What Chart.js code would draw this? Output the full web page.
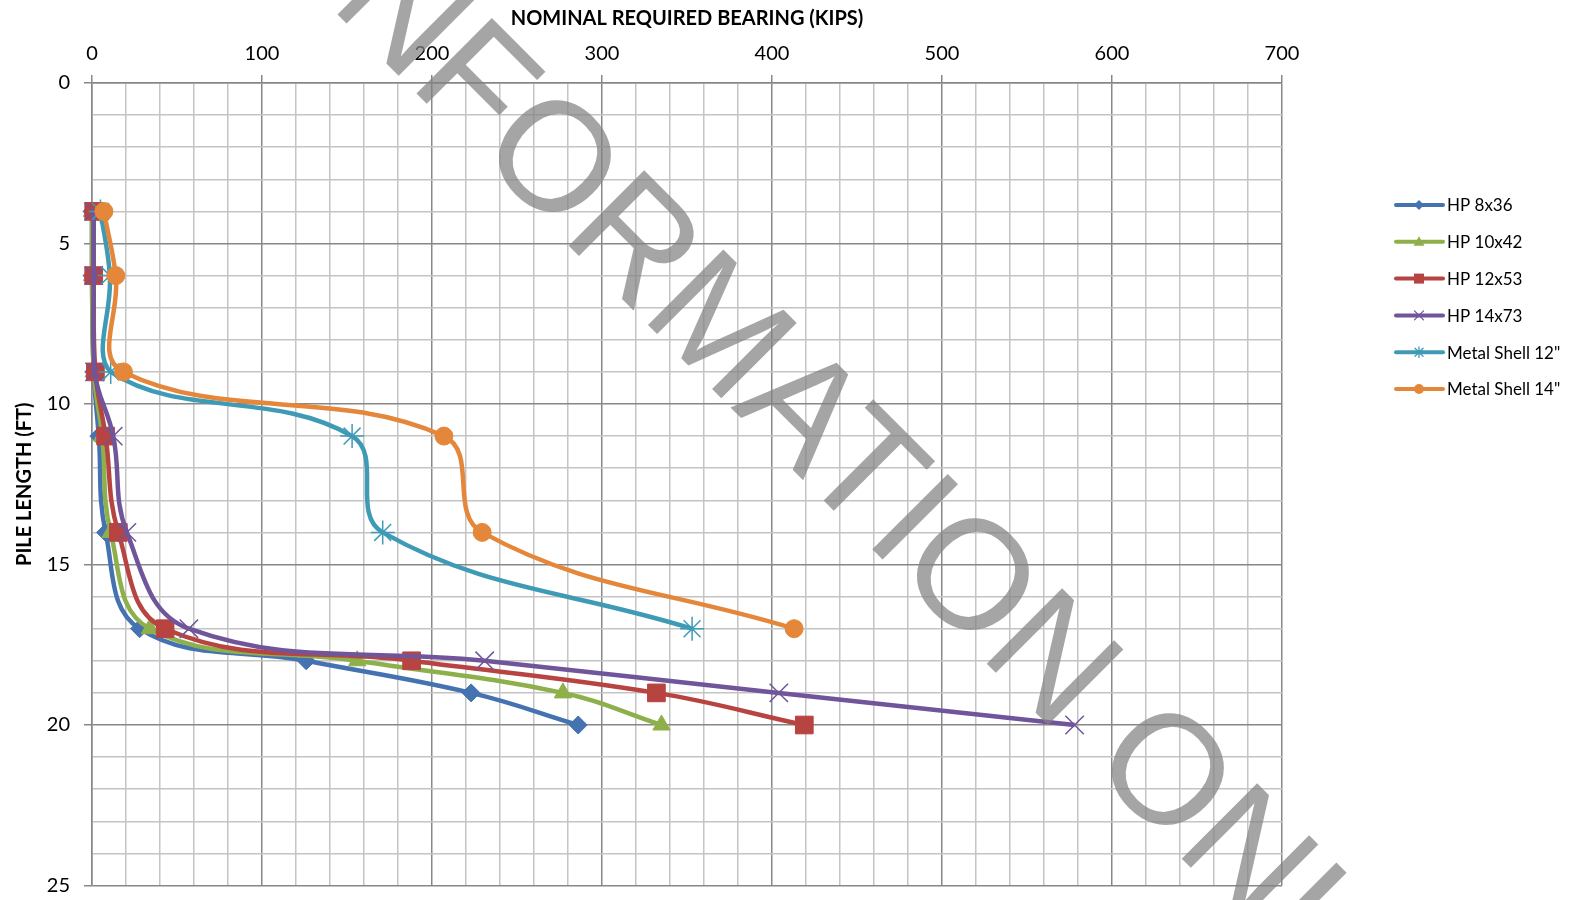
<!DOCTYPE html>
<html>
<head>
<meta charset="utf-8">
<script src="https://cdn.jsdelivr.net/npm/chart.js@4.4.0/dist/chart.umd.min.js"></script>
<style>
  html, body { margin: 0; padding: 0; background: #fff; }
</style>
</head>
<body>
<canvas id="pileChart" width="1577" height="900"></canvas>
<script>
// pile length (ft) for each reading
var depths = [4, 6, 9, 11, 14, 17, 18, 19, 20];
var shellDepths = [4, 6, 9, 11, 14, 17];

// nominal required bearing (kips)
var hp8x36 = [0, 0, 1, 4, 8, 28, 126, 223, 286];
var hp10x42 = [0, 0, 1, 6, 11, 34, 156, 277, 335];
var hp12x53 = [1, 1, 2, 8, 15.5, 43, 188, 332, 419];
var hp14x73 = [1, 1, 1.5, 12.5, 20.5, 57, 231, 404, 578];
var shell12 = [5, 10.5, 11, 153, 171, 353];
var shell14 = [7, 14, 18.5, 207, 229.5, 413];

var seriesNames = ['HP 8x36', 'HP 10x42', 'HP 12x53', 'HP 14x73', 'Metal Shell 12"', 'Metal Shell 14"'];
var xTickLabels = [0, 100, 200, 300, 400, 500, 600, 700];
var yTickLabels = [0, 5, 10, 15, 20, 25];

var colors = ['#4572b0', '#8eb04b', '#b84441', '#70559a', '#3f9bb5', '#e4873a'];
var markers = ['rectRot', 'triangle', 'rect', 'crossRot', 'star', 'circle'];
var markerSize = [9, 10, 12.5, 13, 12, 9];

function toPoints(xs, ys) {
  return xs.map(function(v, i) { return { x: v, y: ys[i] }; });
}

var seriesData = [
  toPoints(hp8x36, depths),
  toPoints(hp10x42, depths),
  toPoints(hp12x53, depths),
  toPoints(hp14x73, depths),
  toPoints(shell12, shellDepths),
  toPoints(shell14, shellDepths)
];

var datasets = seriesData.map(function(d, i) {
  return {
    label: seriesNames[i],
    data: d,
    showLine: true,
    borderColor: colors[i],
    backgroundColor: colors[i],
    borderWidth: 4.5,
    tension: 0.4,
    pointStyle: markers[i],
    pointRadius: markerSize[i],
    pointBorderWidth: (markers[i] === 'crossRot' || markers[i] === 'star') ? 1.5 : 1,
    pointBorderColor: colors[i],
    pointBackgroundColor: colors[i],
    clip: false,
    order: seriesData.length - i
  };
});

// small marker drawer for the side legend
function drawMarker(ctx, style, x, y, r, color) {
  ctx.save();
  ctx.fillStyle = color;
  ctx.strokeStyle = color;
  ctx.lineWidth = 1.3;
  ctx.beginPath();
  if (style === 'rectRot') {
    ctx.moveTo(x, y - r); ctx.lineTo(x + r, y); ctx.lineTo(x, y + r); ctx.lineTo(x - r, y);
    ctx.closePath(); ctx.fill();
  } else if (style === 'triangle') {
    ctx.moveTo(x, y - r); ctx.lineTo(x + r, y + r * 0.7); ctx.lineTo(x - r, y + r * 0.7);
    ctx.closePath(); ctx.fill();
  } else if (style === 'rect') {
    ctx.rect(x - r, y - r, 2 * r, 2 * r); ctx.fill();
  } else if (style === 'crossRot') {
    ctx.moveTo(x - r, y - r); ctx.lineTo(x + r, y + r);
    ctx.moveTo(x + r, y - r); ctx.lineTo(x - r, y + r); ctx.stroke();
  } else if (style === 'star') {
    ctx.moveTo(x - r, y - r); ctx.lineTo(x + r, y + r);
    ctx.moveTo(x + r, y - r); ctx.lineTo(x - r, y + r);
    ctx.moveTo(x, y - r * 1.3); ctx.lineTo(x, y + r * 1.3); ctx.stroke();
  } else {
    ctx.arc(x, y, r, 0, Math.PI * 2); ctx.fill();
  }
  ctx.restore();
}

var sideLegend = {
  id: 'sideLegend',
  afterDraw: function(chart) {
    var ctx = chart.ctx;
    var top = 205, step = 36.8;
    var legendMarker = [5, 5.5, 5, 4.5, 4, 5];
    ctx.save();
    ctx.font = '17px Lato, "Open Sans", sans-serif';
    ctx.textBaseline = 'middle';
    ctx.fillStyle = '#000';
    seriesNames.forEach(function(name, i) {
      var y = top + i * step;
      ctx.strokeStyle = colors[i];
      ctx.lineWidth = 4;
      ctx.lineCap = 'round';
      ctx.beginPath();
      ctx.moveTo(1396, y);
      ctx.lineTo(1443, y);
      ctx.stroke();
      drawMarker(ctx, markers[i], 1419, y, legendMarker[i], colors[i]);
      ctx.fillStyle = '#000';
      ctx.fillText(name, 1447, y + 1);
    });
    ctx.restore();
  }
};

var watermark = {
  id: 'watermark',
  afterDatasetsDraw: function(chart) {
    var ctx = chart.ctx;
    ctx.save();
    ctx.translate(298, -25);
    ctx.rotate(Math.PI / 4);
    ctx.font = '155px "Liberation Sans", Arial, sans-serif';
    ctx.fillStyle = 'rgba(130,130,130,0.72)';
    ctx.textBaseline = 'alphabetic';
    ctx.textAlign = 'left';
    ctx.fillText('INFORMATION ONLY', 0, 0);
    ctx.restore();
  }
};

new Chart(document.getElementById('pileChart'), {
  type: 'scatter',
  data: { datasets: datasets },
  plugins: [watermark, sideLegend],
  options: {
    responsive: false,
    animation: false,
    layout: { padding: { left: 0, right: 295, top: 0, bottom: 11 } },
    plugins: {
      legend: { display: false },
      tooltip: { enabled: false }
    },
    scales: {
      x: {
        type: 'linear',
        position: 'top',
        min: 0,
        max: 700,
        afterFit: function(scale) {
          scale.height = 83;
          scale.paddingLeft = 0;
          scale.paddingRight = 0;
        },
        ticks: {
          stepSize: 20,
          autoSkip: false,
          maxRotation: 0,
          padding: 9,
          color: '#000',
          font: { family: 'Lato, "Open Sans", sans-serif', size: 20 },
          callback: function(v) { return xTickLabels.indexOf(v) >= 0 ? String(v) : ''; }
        },
        grid: {
          color: function(c) { return c.tick && c.tick.value % 100 === 0 ? '#878787' : '#c4c4c4'; },
          lineWidth: 1.5,
          tickLength: 8,
          tickColor: function(c) { return c.tick && c.tick.value % 100 === 0 ? '#878787' : 'rgba(0,0,0,0)'; }
        },
        border: { color: '#878787', width: 1.5 },
        title: {
          display: true,
          text: 'NOMINAL REQUIRED BEARING (KIPS)',
          color: '#000',
          font: { family: 'Lato, "Open Sans", sans-serif', size: 20, weight: 'bold' },
          padding: { top: 7, bottom: 0 }
        }
      },
      y: {
        type: 'linear',
        reverse: true,
        min: 0,
        max: 25,
        afterFit: function(scale) {
          scale.width = 92;
          scale.paddingTop = 0;
          scale.paddingBottom = 0;
        },
        ticks: {
          stepSize: 1,
          autoSkip: false,
          padding: 14,
          color: '#000',
          font: { family: 'Lato, "Open Sans", sans-serif', size: 20, lineHeight: 0.9 },
          callback: function(v) { return yTickLabels.indexOf(v) >= 0 ? String(v) : ''; }
        },
        grid: {
          color: function(c) { return c.tick && c.tick.value % 5 === 0 ? '#878787' : '#c4c4c4'; },
          lineWidth: 1.5,
          tickLength: 8,
          tickColor: function(c) { return c.tick && c.tick.value % 5 === 0 ? '#878787' : 'rgba(0,0,0,0)'; }
        },
        border: { color: '#878787', width: 1.5 },
        title: {
          display: true,
          text: 'PILE LENGTH (FT)',
          color: '#000',
          font: { family: 'Lato, "Open Sans", sans-serif', size: 20, weight: 'bold' },
          padding: { top: 13, bottom: 0 }
        }
      }
    }
  }
});
</script>
</body>
</html>
